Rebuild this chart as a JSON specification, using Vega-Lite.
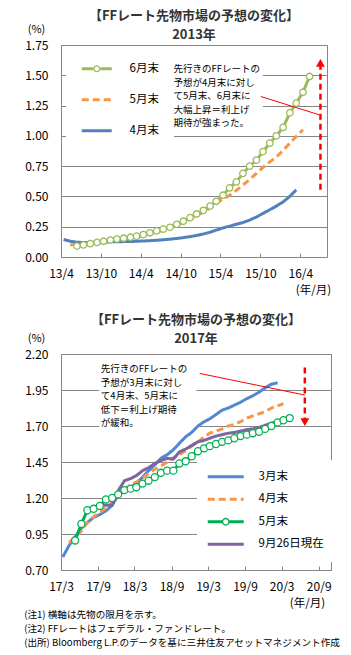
{
  "$schema": "https://vega.github.io/schema/vega-lite/v6.json",
  "padding": {"left": 24, "top": 9, "right": 4, "bottom": 4},
  "spacing": 17,
  "config": {
    "font": "Noto Sans CJK JP",
    "view": {"stroke": "#868686", "strokeWidth": 1},
    "axis": {"labelFont": "Noto Sans CJK JP", "titleFont": "Noto Sans CJK JP", "labelColor": "#000", "titleColor": "#000", "labelFontSize": 12},
    "legend": {"labelFont": "Noto Sans CJK JP", "labelColor": "#000"},
    "title": {"font": "Noto Sans CJK JP"}
  },
  "title": {
    "text": ["(注1) 横軸は先物の限月を示す。", "(注2) FFレートはフェデラル・ファンドレート。", "(出所) Bloomberg L.P.のデータを基に三井住友アセットマネジメント作成"],
    "orient": "bottom", "anchor": "start", "fontSize": 9.6, "fontWeight": "normal", "lineHeight": 14, "color": "#000", "offset": 1
  },
  "resolve": {
    "scale": {"x": "independent", "y": "independent", "color": "independent", "strokeDash": "independent"},
    "legend": {"color": "independent", "strokeDash": "independent"}
  },
  "datasets": {
    "top": [
      {"date": "2013-04-13", "series": "4月末", "value": 0.145},
      {"date": "2013-05-13", "series": "4月末", "value": 0.13},
      {"date": "2013-06-13", "series": "4月末", "value": 0.122},
      {"date": "2013-07-13", "series": "4月末", "value": 0.12},
      {"date": "2013-08-13", "series": "4月末", "value": 0.12},
      {"date": "2013-09-13", "series": "4月末", "value": 0.122},
      {"date": "2013-10-13", "series": "4月末", "value": 0.124},
      {"date": "2013-11-13", "series": "4月末", "value": 0.125},
      {"date": "2013-12-13", "series": "4月末", "value": 0.126},
      {"date": "2014-01-13", "series": "4月末", "value": 0.127},
      {"date": "2014-02-13", "series": "4月末", "value": 0.128},
      {"date": "2014-03-13", "series": "4月末", "value": 0.13},
      {"date": "2014-04-13", "series": "4月末", "value": 0.132},
      {"date": "2014-05-13", "series": "4月末", "value": 0.135},
      {"date": "2014-06-13", "series": "4月末", "value": 0.138},
      {"date": "2014-07-13", "series": "4月末", "value": 0.142},
      {"date": "2014-08-13", "series": "4月末", "value": 0.147},
      {"date": "2014-09-13", "series": "4月末", "value": 0.153},
      {"date": "2014-10-13", "series": "4月末", "value": 0.16},
      {"date": "2014-11-13", "series": "4月末", "value": 0.168},
      {"date": "2014-12-13", "series": "4月末", "value": 0.178},
      {"date": "2015-01-13", "series": "4月末", "value": 0.19},
      {"date": "2015-02-13", "series": "4月末", "value": 0.205},
      {"date": "2015-03-13", "series": "4月末", "value": 0.222},
      {"date": "2015-04-13", "series": "4月末", "value": 0.24},
      {"date": "2015-05-13", "series": "4月末", "value": 0.255},
      {"date": "2015-06-13", "series": "4月末", "value": 0.27},
      {"date": "2015-07-13", "series": "4月末", "value": 0.285},
      {"date": "2015-08-13", "series": "4月末", "value": 0.305},
      {"date": "2015-09-13", "series": "4月末", "value": 0.33},
      {"date": "2015-10-13", "series": "4月末", "value": 0.36},
      {"date": "2015-11-13", "series": "4月末", "value": 0.39},
      {"date": "2015-12-13", "series": "4月末", "value": 0.42},
      {"date": "2016-01-13", "series": "4月末", "value": 0.455},
      {"date": "2016-02-13", "series": "4月末", "value": 0.5},
      {"date": "2016-03-13", "series": "4月末", "value": 0.555},
      {"date": "2013-05-13", "series": "5月末", "value": 0.1},
      {"date": "2013-06-13", "series": "5月末", "value": 0.105},
      {"date": "2013-07-13", "series": "5月末", "value": 0.11},
      {"date": "2013-08-13", "series": "5月末", "value": 0.115},
      {"date": "2013-09-13", "series": "5月末", "value": 0.12},
      {"date": "2013-10-13", "series": "5月末", "value": 0.125},
      {"date": "2013-11-13", "series": "5月末", "value": 0.13},
      {"date": "2013-12-13", "series": "5月末", "value": 0.14},
      {"date": "2014-01-13", "series": "5月末", "value": 0.145},
      {"date": "2014-02-13", "series": "5月末", "value": 0.155},
      {"date": "2014-03-13", "series": "5月末", "value": 0.165},
      {"date": "2014-04-13", "series": "5月末", "value": 0.175},
      {"date": "2014-05-13", "series": "5月末", "value": 0.19},
      {"date": "2014-06-13", "series": "5月末", "value": 0.205},
      {"date": "2014-07-13", "series": "5月末", "value": 0.225},
      {"date": "2014-08-13", "series": "5月末", "value": 0.24},
      {"date": "2014-09-13", "series": "5月末", "value": 0.26},
      {"date": "2014-10-13", "series": "5月末", "value": 0.285},
      {"date": "2014-11-13", "series": "5月末", "value": 0.31},
      {"date": "2014-12-13", "series": "5月末", "value": 0.34},
      {"date": "2015-01-13", "series": "5月末", "value": 0.37},
      {"date": "2015-02-13", "series": "5月末", "value": 0.405},
      {"date": "2015-03-13", "series": "5月末", "value": 0.44},
      {"date": "2015-04-13", "series": "5月末", "value": 0.48},
      {"date": "2015-05-13", "series": "5月末", "value": 0.51},
      {"date": "2015-06-13", "series": "5月末", "value": 0.55},
      {"date": "2015-07-13", "series": "5月末", "value": 0.595},
      {"date": "2015-08-13", "series": "5月末", "value": 0.64},
      {"date": "2015-09-13", "series": "5月末", "value": 0.69},
      {"date": "2015-10-13", "series": "5月末", "value": 0.74},
      {"date": "2015-11-13", "series": "5月末", "value": 0.785},
      {"date": "2015-12-13", "series": "5月末", "value": 0.825},
      {"date": "2016-01-13", "series": "5月末", "value": 0.88},
      {"date": "2016-02-13", "series": "5月末", "value": 0.94},
      {"date": "2016-03-13", "series": "5月末", "value": 0.995},
      {"date": "2016-04-13", "series": "5月末", "value": 1.05},
      {"date": "2013-06-13", "series": "6月末", "value": 0.09},
      {"date": "2013-07-13", "series": "6月末", "value": 0.1},
      {"date": "2013-08-13", "series": "6月末", "value": 0.11},
      {"date": "2013-09-13", "series": "6月末", "value": 0.12},
      {"date": "2013-10-13", "series": "6月末", "value": 0.13},
      {"date": "2013-11-13", "series": "6月末", "value": 0.14},
      {"date": "2013-12-13", "series": "6月末", "value": 0.148},
      {"date": "2014-01-13", "series": "6月末", "value": 0.155},
      {"date": "2014-02-13", "series": "6月末", "value": 0.163},
      {"date": "2014-03-13", "series": "6月末", "value": 0.172},
      {"date": "2014-04-13", "series": "6月末", "value": 0.185},
      {"date": "2014-05-13", "series": "6月末", "value": 0.2},
      {"date": "2014-06-13", "series": "6月末", "value": 0.215},
      {"date": "2014-07-13", "series": "6月末", "value": 0.23},
      {"date": "2014-08-13", "series": "6月末", "value": 0.245},
      {"date": "2014-09-13", "series": "6月末", "value": 0.27},
      {"date": "2014-10-13", "series": "6月末", "value": 0.295},
      {"date": "2014-11-13", "series": "6月末", "value": 0.325},
      {"date": "2014-12-13", "series": "6月末", "value": 0.355},
      {"date": "2015-01-13", "series": "6月末", "value": 0.385},
      {"date": "2015-02-13", "series": "6月末", "value": 0.42},
      {"date": "2015-03-13", "series": "6月末", "value": 0.46},
      {"date": "2015-04-13", "series": "6月末", "value": 0.51},
      {"date": "2015-05-13", "series": "6月末", "value": 0.57},
      {"date": "2015-06-13", "series": "6月末", "value": 0.62},
      {"date": "2015-07-13", "series": "6月末", "value": 0.69},
      {"date": "2015-08-13", "series": "6月末", "value": 0.75},
      {"date": "2015-09-13", "series": "6月末", "value": 0.8},
      {"date": "2015-10-13", "series": "6月末", "value": 0.87},
      {"date": "2015-11-13", "series": "6月末", "value": 0.94},
      {"date": "2015-12-13", "series": "6月末", "value": 1.0},
      {"date": "2016-01-13", "series": "6月末", "value": 1.07},
      {"date": "2016-02-13", "series": "6月末", "value": 1.19},
      {"date": "2016-03-13", "series": "6月末", "value": 1.27},
      {"date": "2016-04-13", "series": "6月末", "value": 1.36},
      {"date": "2016-05-13", "series": "6月末", "value": 1.49}
    ],
    "topNotes": [
      {"kind": "box", "date": "2014-08-04", "value": 1.636, "date2": "2015-10-12", "value2": 1.083},
      {"kind": "note", "date": "2014-08-29", "value": 1.59, "text": "先行きのFFレートの\n予想が4月末に対し\nて5月末、6月末に\n大幅上昇＝利上げ\n期待が強まった。"},
      {"kind": "pointer", "date": "2015-10-03", "value": 1.325, "date2": "2016-06-26", "value2": 1.174},
      {"kind": "arrow", "date": "2016-07-02", "value": 0.555, "value2": 1.58},
      {"kind": "head", "date": "2016-07-02", "value": 1.602}
    ],
    "bottom": [
      {"date": "2017-03-10", "series": "3月末", "value": 0.79},
      {"date": "2017-04-10", "series": "3月末", "value": 0.87},
      {"date": "2017-05-10", "series": "3月末", "value": 0.93},
      {"date": "2017-06-10", "series": "3月末", "value": 0.99},
      {"date": "2017-07-10", "series": "3月末", "value": 1.03},
      {"date": "2017-08-10", "series": "3月末", "value": 1.065},
      {"date": "2017-09-10", "series": "3月末", "value": 1.085},
      {"date": "2017-10-10", "series": "3月末", "value": 1.11},
      {"date": "2017-11-10", "series": "3月末", "value": 1.15},
      {"date": "2017-12-10", "series": "3月末", "value": 1.22},
      {"date": "2018-01-10", "series": "3月末", "value": 1.25},
      {"date": "2018-02-10", "series": "3月末", "value": 1.275},
      {"date": "2018-03-10", "series": "3月末", "value": 1.3},
      {"date": "2018-04-10", "series": "3月末", "value": 1.345},
      {"date": "2018-05-10", "series": "3月末", "value": 1.39},
      {"date": "2018-06-10", "series": "3月末", "value": 1.43},
      {"date": "2018-07-10", "series": "3月末", "value": 1.475},
      {"date": "2018-08-10", "series": "3月末", "value": 1.5},
      {"date": "2018-09-10", "series": "3月末", "value": 1.535},
      {"date": "2018-10-10", "series": "3月末", "value": 1.58},
      {"date": "2018-11-10", "series": "3月末", "value": 1.625},
      {"date": "2018-12-10", "series": "3月末", "value": 1.655},
      {"date": "2019-01-10", "series": "3月末", "value": 1.7},
      {"date": "2019-02-10", "series": "3月末", "value": 1.73},
      {"date": "2019-03-10", "series": "3月末", "value": 1.75},
      {"date": "2019-04-10", "series": "3月末", "value": 1.78},
      {"date": "2019-05-10", "series": "3月末", "value": 1.81},
      {"date": "2019-06-10", "series": "3月末", "value": 1.825},
      {"date": "2019-07-10", "series": "3月末", "value": 1.845},
      {"date": "2019-08-10", "series": "3月末", "value": 1.865},
      {"date": "2019-09-10", "series": "3月末", "value": 1.89},
      {"date": "2019-10-10", "series": "3月末", "value": 1.91},
      {"date": "2019-11-10", "series": "3月末", "value": 1.935},
      {"date": "2019-12-10", "series": "3月末", "value": 1.965},
      {"date": "2020-01-10", "series": "3月末", "value": 1.99},
      {"date": "2020-02-10", "series": "3月末", "value": 2.0},
      {"date": "2017-04-10", "series": "4月末", "value": 0.89},
      {"date": "2017-05-10", "series": "4月末", "value": 0.93},
      {"date": "2017-06-10", "series": "4月末", "value": 0.97},
      {"date": "2017-07-10", "series": "4月末", "value": 1.03},
      {"date": "2017-08-10", "series": "4月末", "value": 1.07},
      {"date": "2017-09-10", "series": "4月末", "value": 1.1},
      {"date": "2017-10-10", "series": "4月末", "value": 1.13},
      {"date": "2017-11-10", "series": "4月末", "value": 1.17},
      {"date": "2017-12-10", "series": "4月末", "value": 1.22},
      {"date": "2018-01-10", "series": "4月末", "value": 1.26},
      {"date": "2018-02-10", "series": "4月末", "value": 1.29},
      {"date": "2018-03-10", "series": "4月末", "value": 1.31},
      {"date": "2018-04-10", "series": "4月末", "value": 1.34},
      {"date": "2018-05-10", "series": "4月末", "value": 1.37},
      {"date": "2018-06-10", "series": "4月末", "value": 1.4},
      {"date": "2018-07-10", "series": "4月末", "value": 1.42},
      {"date": "2018-08-10", "series": "4月末", "value": 1.45},
      {"date": "2018-09-10", "series": "4月末", "value": 1.48},
      {"date": "2018-10-10", "series": "4月末", "value": 1.5},
      {"date": "2018-11-10", "series": "4月末", "value": 1.53},
      {"date": "2018-12-10", "series": "4月末", "value": 1.56},
      {"date": "2019-01-10", "series": "4月末", "value": 1.59},
      {"date": "2019-02-10", "series": "4月末", "value": 1.625},
      {"date": "2019-03-10", "series": "4月末", "value": 1.65},
      {"date": "2019-04-10", "series": "4月末", "value": 1.665},
      {"date": "2019-05-10", "series": "4月末", "value": 1.68},
      {"date": "2019-06-10", "series": "4月末", "value": 1.7},
      {"date": "2019-07-10", "series": "4月末", "value": 1.71},
      {"date": "2019-08-10", "series": "4月末", "value": 1.73},
      {"date": "2019-09-10", "series": "4月末", "value": 1.755},
      {"date": "2019-10-10", "series": "4月末", "value": 1.77},
      {"date": "2019-11-10", "series": "4月末", "value": 1.785},
      {"date": "2019-12-10", "series": "4月末", "value": 1.8},
      {"date": "2020-01-10", "series": "4月末", "value": 1.825},
      {"date": "2020-02-10", "series": "4月末", "value": 1.84},
      {"date": "2020-03-10", "series": "4月末", "value": 1.855},
      {"date": "2017-05-10", "series": "5月末", "value": 0.905},
      {"date": "2017-06-10", "series": "5月末", "value": 1.02},
      {"date": "2017-07-10", "series": "5月末", "value": 1.115},
      {"date": "2017-08-10", "series": "5月末", "value": 1.125},
      {"date": "2017-09-10", "series": "5月末", "value": 1.145},
      {"date": "2017-10-10", "series": "5月末", "value": 1.19},
      {"date": "2017-11-10", "series": "5月末", "value": 1.2},
      {"date": "2017-12-10", "series": "5月末", "value": 1.225},
      {"date": "2018-01-10", "series": "5月末", "value": 1.255},
      {"date": "2018-02-10", "series": "5月末", "value": 1.265},
      {"date": "2018-03-10", "series": "5月末", "value": 1.275},
      {"date": "2018-04-10", "series": "5月末", "value": 1.3},
      {"date": "2018-05-10", "series": "5月末", "value": 1.32},
      {"date": "2018-06-10", "series": "5月末", "value": 1.345},
      {"date": "2018-07-10", "series": "5月末", "value": 1.375},
      {"date": "2018-08-10", "series": "5月末", "value": 1.39},
      {"date": "2018-09-10", "series": "5月末", "value": 1.39},
      {"date": "2018-10-10", "series": "5月末", "value": 1.44},
      {"date": "2018-11-10", "series": "5月末", "value": 1.455},
      {"date": "2018-12-10", "series": "5月末", "value": 1.49},
      {"date": "2019-01-10", "series": "5月末", "value": 1.525},
      {"date": "2019-02-10", "series": "5月末", "value": 1.545},
      {"date": "2019-03-10", "series": "5月末", "value": 1.56},
      {"date": "2019-04-10", "series": "5月末", "value": 1.575},
      {"date": "2019-05-10", "series": "5月末", "value": 1.59},
      {"date": "2019-06-10", "series": "5月末", "value": 1.6},
      {"date": "2019-07-10", "series": "5月末", "value": 1.615},
      {"date": "2019-08-10", "series": "5月末", "value": 1.63},
      {"date": "2019-09-10", "series": "5月末", "value": 1.64},
      {"date": "2019-10-10", "series": "5月末", "value": 1.65},
      {"date": "2019-11-10", "series": "5月末", "value": 1.66},
      {"date": "2019-12-10", "series": "5月末", "value": 1.68},
      {"date": "2020-01-10", "series": "5月末", "value": 1.7},
      {"date": "2020-02-10", "series": "5月末", "value": 1.725},
      {"date": "2020-03-10", "series": "5月末", "value": 1.74},
      {"date": "2020-04-10", "series": "5月末", "value": 1.755},
      {"date": "2017-09-10", "series": "9月26日現在", "value": 1.15},
      {"date": "2017-10-10", "series": "9月26日現在", "value": 1.15},
      {"date": "2017-11-10", "series": "9月26日現在", "value": 1.15},
      {"date": "2017-12-10", "series": "9月26日現在", "value": 1.25},
      {"date": "2018-01-10", "series": "9月26日現在", "value": 1.32},
      {"date": "2018-02-10", "series": "9月26日現在", "value": 1.335},
      {"date": "2018-03-10", "series": "9月26日現在", "value": 1.355},
      {"date": "2018-04-10", "series": "9月26日現在", "value": 1.39},
      {"date": "2018-05-10", "series": "9月26日現在", "value": 1.41},
      {"date": "2018-06-10", "series": "9月26日現在", "value": 1.44},
      {"date": "2018-07-10", "series": "9月26日現在", "value": 1.46},
      {"date": "2018-08-10", "series": "9月26日現在", "value": 1.475},
      {"date": "2018-09-10", "series": "9月26日現在", "value": 1.47},
      {"date": "2018-10-10", "series": "9月26日現在", "value": 1.52},
      {"date": "2018-11-10", "series": "9月26日現在", "value": 1.54},
      {"date": "2018-12-10", "series": "9月26日現在", "value": 1.565},
      {"date": "2019-01-10", "series": "9月26日現在", "value": 1.59},
      {"date": "2019-02-10", "series": "9月26日現在", "value": 1.6},
      {"date": "2019-03-10", "series": "9月26日現在", "value": 1.615},
      {"date": "2019-04-10", "series": "9月26日現在", "value": 1.63},
      {"date": "2019-05-10", "series": "9月26日現在", "value": 1.64},
      {"date": "2019-06-10", "series": "9月26日現在", "value": 1.65},
      {"date": "2019-07-10", "series": "9月26日現在", "value": 1.655},
      {"date": "2019-08-10", "series": "9月26日現在", "value": 1.665},
      {"date": "2019-09-10", "series": "9月26日現在", "value": 1.675},
      {"date": "2019-10-10", "series": "9月26日現在", "value": 1.68},
      {"date": "2019-11-10", "series": "9月26日現在", "value": 1.69},
      {"date": "2019-12-10", "series": "9月26日現在", "value": 1.705},
      {"date": "2020-01-10", "series": "9月26日現在", "value": 1.72},
      {"date": "2020-02-10", "series": "9月26日現在", "value": 1.73},
      {"date": "2020-03-10", "series": "9月26日現在", "value": 1.74},
      {"date": "2020-04-10", "series": "9月26日現在", "value": 1.745}
    ],
    "bottomNotes": [
      {"kind": "box", "date": "2017-09-07", "value": 2.167, "date2": "2019-01-03", "value2": 1.681},
      {"kind": "note", "date": "2017-09-15", "value": 2.13, "text": "先行きのFFレートの\n予想が3月末に対し\nて4月末、5月末に\n低下＝利上げ期待\nが緩和。"},
      {"kind": "pointer", "date": "2019-01-19", "value": 2.065, "date2": "2020-06-24", "value2": 1.915},
      {"kind": "arrow", "date": "2020-06-24", "value": 2.107, "value2": 1.745},
      {"kind": "head", "date": "2020-06-24", "value": 1.727}
    ]
  },
  "vconcat": [
    {
      "width": 266,
      "height": 212,
      "title": {"text": ["【FFレート先物市場の予想の変化】", "2013年"], "anchor": "middle", "frame": "group", "fontSize": 13, "fontWeight": "bold", "lineHeight": 19, "color": "#333", "offset": -19},
      "encoding": {
        "x": {
          "field": "date", "type": "temporal",
          "scale": {"type": "utc", "domain": [{"year": 2013, "month": 4, "date": 1, "utc": true}, {"year": 2016, "month": 8, "date": 1, "utc": true}]},
          "axis": {
            "values": [
              {"year": 2013, "month": 4, "date": 1, "utc": true}, {"year": 2013, "month": 10, "date": 1, "utc": true},
              {"year": 2014, "month": 4, "date": 1, "utc": true}, {"year": 2014, "month": 10, "date": 1, "utc": true},
              {"year": 2015, "month": 4, "date": 1, "utc": true}, {"year": 2015, "month": 10, "date": 1, "utc": true},
              {"year": 2016, "month": 4, "date": 1, "utc": true}
            ],
            "format": "%y/%-m", "grid": false, "domain": false, "ticks": true, "tickSize": -4, "tickColor": "#868686",
            "labelPadding": 15, "labelOverlap": false, "labelFlush": false,
            "title": "(年/月)", "titleX": 252, "titleY": 33, "titleAlign": "center", "titleBaseline": "middle", "titleFontWeight": "normal", "titleFontSize": 11.5
          }
        },
        "y": {
          "field": "value", "type": "quantitative",
          "scale": {"domain": [0, 1.75], "nice": false, "zero": false},
          "axis": {
            "values": [0, 0.25, 0.5, 0.75, 1, 1.25, 1.5, 1.75], "format": ".2f", "grid": true, "gridColor": "#868686", "domain": false, "ticks": false, "tickSize": 0, "labelPadding": 13,
            "title": "(%)", "titleAngle": 0, "titleX": -25, "titleY": -16, "titleAlign": "center", "titleBaseline": "middle", "titleFontWeight": "normal", "titleFontSize": 11
          }
        }
      },
      "layer": [
        {
          "data": {"name": "topNotes"},
          "transform": [{"filter": "datum.kind === 'box'"}],
          "mark": {"type": "rect", "fill": "white"},
          "encoding": {"x2": {"field": "date2"}, "y2": {"field": "value2"}}
        },
        {
          "data": {"name": "top"},
          "mark": {"type": "line", "strokeWidth": 3},
          "encoding": {
            "color": {
              "field": "series", "type": "nominal",
              "scale": {"domain": ["6月末", "5月末", "4月末"], "range": ["#9bbb59", "#f79646", "#4f81bd"]},
              "legend": {
                "title": null, "orient": "none", "legendX": 5, "legendY": 3, "direction": "vertical", "fillColor": "white", "padding": 15,
                "symbolType": "M-3,0L3,0", "symbolSize": 100, "symbolStrokeWidth": 3, "symbolOffset": 10, "labelOffset": 27,
                "labelFontSize": 11.5, "rowPadding": 18,
                "encoding": {"symbols": {
                  "shape": {"value": {"expr": "datum.value === '6月末' ? 'M-3,-0.3H-0.7V0.3H-3Z M0.7,-0.3H3V0.3H0.7Z M0.7,0A0.7,0.7,0,1,1,-0.7,0A0.7,0.7,0,1,1,0.7,0Z M0.45,0A0.45,0.45,0,1,0,-0.45,0A0.45,0.45,0,1,0,0.45,0Z' : 'M-3,0L3,0'"}},
                  "fill": {"value": {"expr": "datum.value === '6月末' ? '#9bbb59' : 'transparent'"}},
                  "strokeWidth": {"value": {"expr": "datum.value === '6月末' ? 0 : 3"}}
                }}
              }
            },
            "strokeDash": {
              "field": "series", "type": "nominal",
              "scale": {"domain": ["6月末", "5月末", "4月末"], "range": [[1, 0], [7, 4], [1, 0]]}
            }
          }
        },
        {
          "data": {"name": "top"},
          "transform": [{"filter": "datum.series === '6月末'"}],
          "mark": {"type": "point", "shape": "circle", "filled": true, "fill": "white", "stroke": "#9bbb59", "strokeWidth": 1.3, "size": 42, "opacity": 1}
        },
        {
          "data": {"name": "topNotes"},
          "transform": [{"filter": "datum.kind === 'pointer'"}],
          "mark": {"type": "rule", "color": "#ff0000", "strokeWidth": 1},
          "encoding": {"x2": {"field": "date2"}, "y2": {"field": "value2"}}
        },
        {
          "data": {"name": "topNotes"},
          "transform": [{"filter": "datum.kind === 'arrow'"}],
          "mark": {"type": "rule", "color": "#ff0000", "strokeWidth": 2.5, "strokeDash": [6, 4]},
          "encoding": {"y2": {"field": "value2"}}
        },
        {
          "data": {"name": "topNotes"},
          "transform": [{"filter": "datum.kind === 'head'"}],
          "mark": {"type": "point", "shape": "triangle-up", "filled": true, "color": "#ff0000", "size": 80, "opacity": 1}
        },
        {
          "data": {"name": "topNotes"},
          "transform": [{"filter": "datum.kind === 'note'"}],
          "mark": {"type": "text", "align": "left", "baseline": "top", "fontSize": 9.5, "lineHeight": 13.5, "lineBreak": "\n", "color": "#000"},
          "encoding": {"text": {"field": "text"}}
        }
      ]
    },
    {
      "width": 270,
      "height": 216,
      "title": {"text": ["【FFレート先物市場の予想の変化】", "2017年"], "anchor": "middle", "frame": "group", "fontSize": 13, "fontWeight": "bold", "lineHeight": 19, "color": "#333", "offset": -14},
      "encoding": {
        "x": {
          "field": "date", "type": "temporal",
          "scale": {"type": "utc", "domain": [{"year": 2017, "month": 3, "date": 1, "utc": true}, {"year": 2020, "month": 11, "date": 1, "utc": true}]},
          "axis": {
            "values": [
              {"year": 2017, "month": 3, "date": 1, "utc": true}, {"year": 2017, "month": 9, "date": 1, "utc": true},
              {"year": 2018, "month": 3, "date": 1, "utc": true}, {"year": 2018, "month": 9, "date": 1, "utc": true},
              {"year": 2019, "month": 3, "date": 1, "utc": true}, {"year": 2019, "month": 9, "date": 1, "utc": true},
              {"year": 2020, "month": 3, "date": 1, "utc": true}, {"year": 2020, "month": 9, "date": 1, "utc": true}
            ],
            "format": "%y/%-m", "grid": false, "domain": false, "ticks": true, "tickSize": -4, "tickColor": "#868686",
            "labelPadding": 15, "labelOverlap": false, "labelFlush": false,
            "title": "(年/月)", "titleX": 246, "titleY": 33, "titleAlign": "center", "titleBaseline": "middle", "titleFontWeight": "normal", "titleFontSize": 11.5
          }
        },
        "y": {
          "field": "value", "type": "quantitative",
          "scale": {"domain": [0.7, 2.2], "nice": false, "zero": false},
          "axis": {
            "values": [0.7, 0.95, 1.2, 1.45, 1.7, 1.95, 2.2], "format": ".2f", "grid": true, "gridColor": "#868686", "domain": false, "ticks": false, "tickSize": 0, "labelPadding": 13,
            "title": "(%)", "titleAngle": 0, "titleX": -25, "titleY": -16, "titleAlign": "center", "titleBaseline": "middle", "titleFontWeight": "normal", "titleFontSize": 11
          }
        }
      },
      "layer": [
        {
          "data": {"name": "bottomNotes"},
          "transform": [{"filter": "datum.kind === 'box'"}],
          "mark": {"type": "rect", "fill": "white"},
          "encoding": {"x2": {"field": "date2"}, "y2": {"field": "value2"}}
        },
        {
          "data": {"name": "bottom"},
          "mark": {"type": "line", "strokeWidth": 3},
          "encoding": {
            "color": {
              "field": "series", "type": "nominal",
              "scale": {"domain": ["3月末", "4月末", "5月末", "9月26日現在"], "range": ["#4f89d0", "#f79646", "#00b050", "#8064a2"]},
              "legend": {
                "title": null, "orient": "none", "legendX": 136, "legendY": 106, "direction": "vertical", "fillColor": "white", "padding": 11,
                "symbolType": "M-3,0L3,0", "symbolSize": 144, "symbolStrokeWidth": 3, "symbolOffset": 12, "labelOffset": 27,
                "labelFontSize": 11.5, "rowPadding": 9.5,
                "encoding": {"symbols": {
                  "shape": {"value": {"expr": "datum.value === '5月末' ? 'M-3,-0.25H-0.6V0.25H-3Z M0.6,-0.25H3V0.25H0.6Z M0.65,0A0.65,0.65,0,1,1,-0.65,0A0.65,0.65,0,1,1,0.65,0Z M0.43,0A0.43,0.43,0,1,0,-0.43,0A0.43,0.43,0,1,0,0.43,0Z' : 'M-3,0L3,0'"}},
                  "fill": {"value": {"expr": "datum.value === '5月末' ? '#00b050' : 'transparent'"}},
                  "strokeWidth": {"value": {"expr": "datum.value === '5月末' ? 0 : 3"}}
                }}
              }
            },
            "strokeDash": {
              "field": "series", "type": "nominal",
              "scale": {"domain": ["3月末", "4月末", "5月末", "9月26日現在"], "range": [[1, 0], [7, 4], [1, 0], [1, 0]]}
            }
          }
        },
        {
          "data": {"name": "bottom"},
          "transform": [{"filter": "datum.series === '5月末'"}],
          "mark": {"type": "point", "shape": "circle", "filled": true, "fill": "white", "stroke": "#00b050", "strokeWidth": 1.3, "size": 50, "opacity": 1}
        },
        {
          "data": {"name": "bottomNotes"},
          "transform": [{"filter": "datum.kind === 'pointer'"}],
          "mark": {"type": "rule", "color": "#ff0000", "strokeWidth": 1},
          "encoding": {"x2": {"field": "date2"}, "y2": {"field": "value2"}}
        },
        {
          "data": {"name": "bottomNotes"},
          "transform": [{"filter": "datum.kind === 'arrow'"}],
          "mark": {"type": "rule", "color": "#ff0000", "strokeWidth": 2.5, "strokeDash": [6, 4]},
          "encoding": {"y2": {"field": "value2"}}
        },
        {
          "data": {"name": "bottomNotes"},
          "transform": [{"filter": "datum.kind === 'head'"}],
          "mark": {"type": "point", "shape": "triangle-down", "filled": true, "color": "#ff0000", "size": 80, "opacity": 1}
        },
        {
          "data": {"name": "bottomNotes"},
          "transform": [{"filter": "datum.kind === 'note'"}],
          "mark": {"type": "text", "align": "left", "baseline": "top", "fontSize": 9.5, "lineHeight": 13.5, "lineBreak": "\n", "color": "#000"},
          "encoding": {"text": {"field": "text"}}
        }
      ]
    }
  ]
}
